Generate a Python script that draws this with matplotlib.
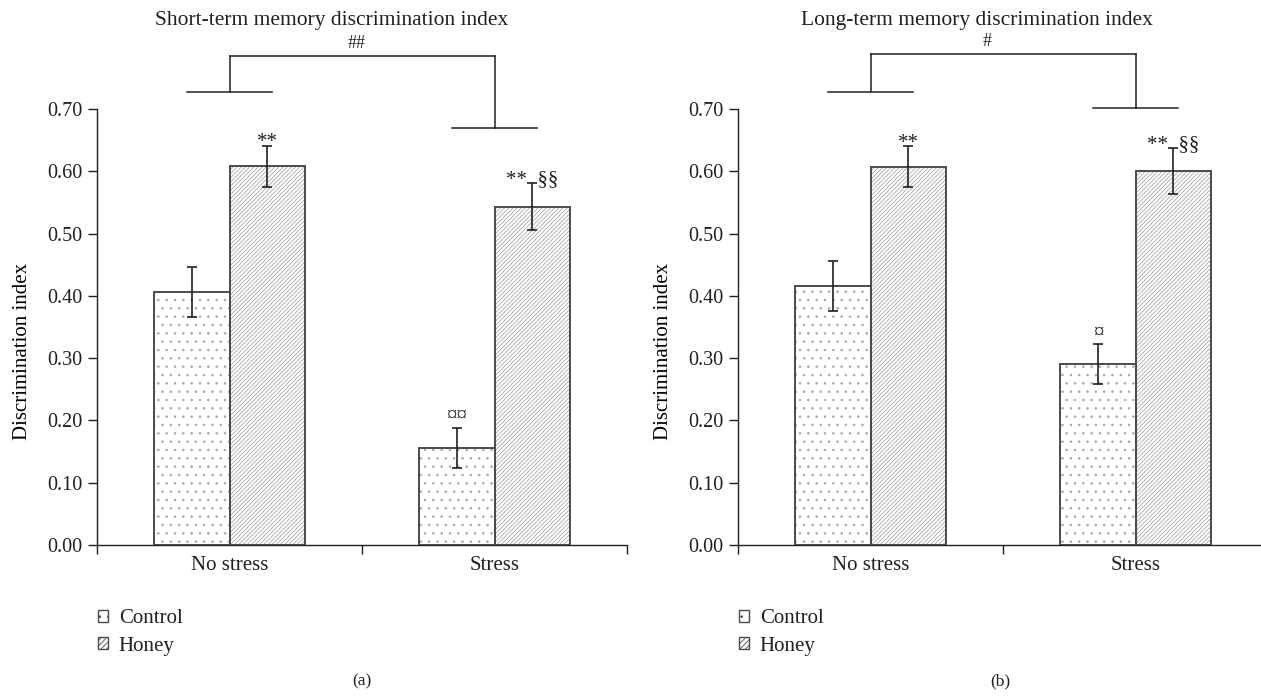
import matplotlib
matplotlib.use("Agg")
import matplotlib.pyplot as plt
from matplotlib.patches import Patch
import numpy as np

INK = "#231f20"; EDGE = "#4a4a4a"; HATCH = "#a8a8a8"
plt.rcParams.update({"font.family": "Liberation Serif", "font.size": 14.5,
                     "text.color": INK, "axes.edgecolor": INK,
                     "xtick.color": INK, "ytick.color": INK,
                     "hatch.linewidth": 0.6, "axes.linewidth": 1.0})

groups = ["No stress", "Stress"]
series = ["Control", "Honey"]

short_control = [0.406, 0.156]
short_control_err = [0.040, 0.032]
short_honey = [0.608, 0.543]
short_honey_err = [0.033, 0.038]

long_control = [0.416, 0.290]
long_control_err = [0.040, 0.032]
long_honey = [0.607, 0.600]
long_honey_err = [0.033, 0.037]

short_marks_control = ["", "¤¤"]
short_marks_honey = ["**", "**  §§"]
long_marks_control = ["", "¤"]
long_marks_honey = ["**", "**  §§"]

# bracket heights: (no-stress foot, stress foot, top)
short_bracket = [0.727, 0.669, 0.785]
long_bracket = [0.727, 0.702, 0.789]

yticks = np.arange(0, 0.71, 0.1)
W = 0.284


def draw_panel(ax, ctrl, ctrl_err, hon, hon_err, m_ctrl, m_hon, br, br_lbl, lbl_x):
    x = np.arange(len(groups))
    for vals, errs, off, hatch, marks in [(ctrl, ctrl_err, -W / 2, "..", m_ctrl),
                                          (hon, hon_err, W / 2, "////////", m_hon)]:
        xs = x + off
        ax.bar(xs, vals, width=W, color="white", edgecolor=HATCH, hatch=hatch, linewidth=0, zorder=2)
        ax.bar(xs, vals, width=W, fill=False, edgecolor=EDGE, linewidth=1.4, zorder=3)
        ax.errorbar(xs, vals, yerr=errs, fmt="none", ecolor=INK, elinewidth=1.2,
                    capsize=3.5, capthick=1.2, zorder=4)
        for xi, v, e, m in zip(xs, vals, errs, marks):
            if m:
                dy = 0.011 if "¤" in m else -0.002
                ax.text(xi, v + e + dy, m, ha="center", va="baseline", fontsize=15)
    # group comparison bracket
    kw = dict(color=INK, lw=1.1, clip_on=False, zorder=5)
    for xi, yb in zip(x, br[:2]):
        ax.plot([xi - 0.16, xi + 0.16], [yb, yb], **kw)
        ax.plot([xi, xi], [yb, br[2]], **kw)
    ax.plot([x[0], x[1]], [br[2], br[2]], **kw)
    ax.text(lbl_x, br[2] + 0.020, br_lbl, ha="center", va="center", fontsize=13)

    ax.set_xlim(-0.5, 1.5)
    ax.set_ylim(0, 0.70)
    ax.set_yticks(yticks)
    ax.set_yticklabels([f"{t:.2f}" for t in yticks])
    ax.set_xticks([-0.5, 0.5, 1.5])
    ax.set_xticklabels([])
    ax.tick_params(axis="both", direction="out", length=6.5, width=1.0, pad=4)
    for s in ("top", "right"):
        ax.spines[s].set_visible(False)
    for xi, g in zip(x, groups):
        ax.text(xi, -0.033, g, ha="center", va="center", fontsize=15, clip_on=False)
    ax.set_ylabel("Discrimination index", fontsize=15)
    ax.yaxis.set_label_coords(-0.122, 0.443)


fig = plt.figure(figsize=(12.61, 6.97), dpi=100)
ax1 = fig.add_axes([97 / 1261, 152 / 697, 530 / 1261, 436 / 697])
ax2 = fig.add_axes([738 / 1261, 152 / 697, 530 / 1261, 436 / 697])

draw_panel(ax1, short_control, short_control_err, short_honey, short_honey_err,
           short_marks_control, short_marks_honey, short_bracket, "##", 0.48)
draw_panel(ax2, long_control, long_control_err, long_honey, long_honey_err,
           long_marks_control, long_marks_honey, long_bracket, "#", 0.44)

fig.text(332 / 1261, 1 - 21 / 697, "Short-term memory discrimination index", ha="center", va="center", fontsize=15.5)
fig.text(977 / 1261, 1 - 21 / 697, "Long-term memory discrimination index", ha="center", va="center", fontsize=15.5)
fig.text(362 / 1261, 1 - 681 / 697, "(a)", ha="center", va="center", fontsize=12.5)
fig.text(1000 / 1261, 1 - 681 / 697, "(b)", ha="center", va="center", fontsize=12.5)

handles = [Patch(facecolor="white", edgecolor=EDGE, hatch="..", linewidth=1.0),
           Patch(facecolor="white", edgecolor=EDGE, hatch="//////", linewidth=1.0)]
for ax, x0 in ((ax1, 98), (ax2, 739)):
    ax.legend(handles, series, loc="upper left", bbox_to_anchor=(x0 / 1261, 1 - 609 / 697),
              bbox_transform=fig.transFigure, frameon=False, fontsize=15,
              handlelength=0.5, handleheight=0.5, handletextpad=0.5,
              labelspacing=0.42, borderaxespad=0, borderpad=0)

fig.savefig("out.png", dpi=100)
